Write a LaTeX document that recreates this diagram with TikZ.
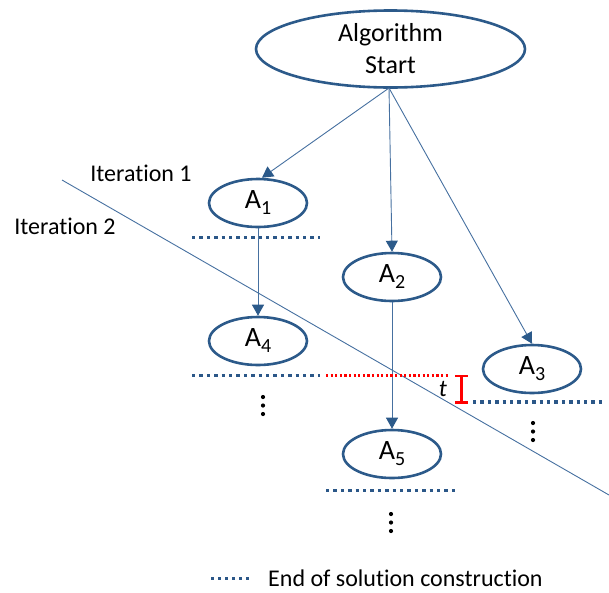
\documentclass[tikz,border=0pt]{standalone}
\usepackage{fontspec}
\setmainfont{Carlito}[Ligatures={NoCommon}]
\usetikzlibrary{shapes.geometric,arrows.meta,calc}
\definecolor{ringblue}{HTML}{2C5A8A}
\definecolor{linkblue}{HTML}{4670A0}
\definecolor{dotblue}{HTML}{2B5788}
% letter with a lowered index
\newcommand{\idxlabel}[2]{#1\raisebox{-6pt}{\fontsize{20}{20}\selectfont #2}}
\tikzset{
  stateoval/.style={ellipse,draw=ringblue,line width=2.6pt,inner sep=0pt,
    minimum width=98pt,minimum height=48pt,font=\fontsize{28}{30}\selectfont},
  link/.style={draw=linkblue,line width=0.9pt,
    -{Triangle[width=12pt,length=11pt,fill=ringblue,color=ringblue]}},
  enddots/.style={draw=dotblue,line width=3.4pt,dash pattern=on 3.4pt off 4pt},
  reddots/.style={draw=red,line width=2.2pt,dash pattern=on 2.2pt off 2.4pt},
  lbl/.style={font=\fontsize{24}{28}\selectfont,inner sep=0pt},
  vdots/.style={fill=black,circle,inner sep=0pt,minimum size=4.2pt}
}
\begin{document}
\begin{tikzpicture}[x=1pt,y=-1pt]
\useasboundingbox (0,0) rectangle (609,592);

% iteration boundary
\coordinate (diagA) at (62,180);
\coordinate (diagB) at (609,495);
\draw[linkblue,line width=0.9pt] (diagA) -- (diagB);

% nodes
\node[ellipse,draw=ringblue,line width=2.6pt,inner sep=0pt,minimum width=269pt,
  minimum height=77pt,align=center,font=\fontsize{26}{32}\selectfont]
  (start) at (390.5,49) {Algorithm\\Start};
\node[stateoval] (a1) at (258,203) {\idxlabel{A}{1}};
\node[stateoval] (a2) at (392,277) {\idxlabel{A}{2}};
\node[stateoval] (a3) at (532,369) {\idxlabel{A}{3}};
\node[stateoval] (a4) at (258,341) {\idxlabel{A}{4}};
\node[stateoval] (a5) at (392,454) {\idxlabel{A}{5}};

% connectors
\coordinate (src) at (389,88);
\draw[link] (src) -- ($(a1.north)+(4,0)$);
\draw[link] (src) -- (a2.north);
\draw[link] (src) -- (a3.north);
\draw[link] (a1.south) -- (a4.north);
\draw[link] (a2.south) -- (a5.north);

% end of solution construction markers
\coordinate (e1a) at (192,237.5); \coordinate (e1b) at (320,237.5);
\coordinate (e4a) at (192,375.5); \coordinate (e4b) at (320,375.5);
\coordinate (e5a) at (326,490.5); \coordinate (e5b) at (458,490.5);
\coordinate (e3a) at (473,402); \coordinate (e3b) at (602,402);
\draw[enddots] (e1a) -- (e1b);
\draw[enddots] (e4a) -- (e4b);
\draw[enddots] (e5a) -- (e5b);
\draw[enddots] (e3a) -- (e3b);
\coordinate (r1) at (326,375.5); \coordinate (r2) at (450,375.5);
\draw[reddots] (r1) -- (r2);

% gap t
\coordinate (ttop) at (461.5,376); \coordinate (tbot) at (461.5,402.5);
\draw[red,line width=2.4pt] (ttop) -- (tbot);
\draw[red,line width=2.4pt] ($(ttop)+(-6.5,0)$) -- ($(ttop)+(6.5,0)$);
\draw[red,line width=2.4pt] ($(tbot)+(-6.5,0)$) -- ($(tbot)+(6.5,0)$);
\node[lbl,font=\fontsize{24}{28}\selectfont\itshape] (tlab) at (443,389) {t};

% continuation dots
\foreach \n/\x/\y in {d4/263/397,d3/533/423,d5/391/514}{
  \node[vdots] (\n a) at (\x,\y) {};
  \node[vdots] (\n b) at (\x,\y+8.5) {};
  \node[vdots] (\n c) at (\x,\y+17) {};
}

% labels
\node[lbl] (it1) at (141,173) {Iteration 1};
\node[lbl] (it2) at (65,226) {Iteration 2};

% legend
\coordinate (la) at (211,578); \coordinate (lb) at (252,578);
\draw[enddots,line width=3pt,dash pattern=on 3pt off 4pt] (la) -- (lb);
\node[lbl,anchor=west] (legend) at (268,578) {End of solution construction};
\end{tikzpicture}
\end{document}
